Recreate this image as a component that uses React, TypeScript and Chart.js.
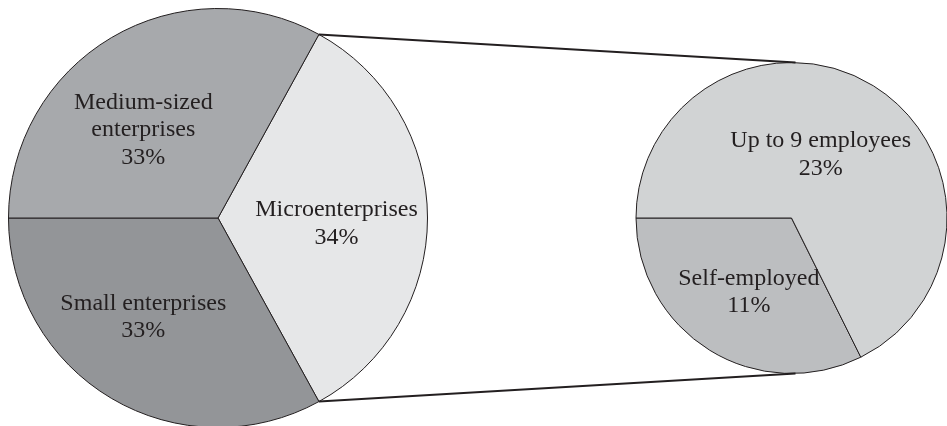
import React, { useEffect, useRef } from "react";
import { Chart, registerables } from "chart.js";

Chart.register(...registerables);

// ---- data ----
const leftCategories: string[][] = [["Microenterprises"], ["Small enterprises"], ["Medium-sized", "enterprises"]];
const leftValues: number[] = [34, 33, 33];
const leftColors: string[] = ["#e6e7e8", "#939598", "#a7a9ac"];

const rightCategories: string[][] = [["Self-employed"], ["Up to 9 employees"]];
const rightValues: number[] = [11, 23];
const rightColors: string[] = ["#bcbec0", "#d1d3d4"];

const INK = "#231f20";
const FONT_SIZE = 24;
const FONT = `${FONT_SIZE}px 'Liberation Serif', 'Times New Roman', serif`;
const LINE_H = 27.6;
const CAP_H = FONT_SIZE * 0.66;

const sum = (a: number[]) => a.reduce((s, v) => s + v, 0);

// label placement: elliptical position inside the slice, then pulled horizontally to fit inside the disc
const FX = 0.7;
const FY = 0.52;
const FIT_MARGIN = 8;
const DROP = 4;

function labelPlugin(lines: string[][]) {
  return {
    id: "sliceLabels",
    afterDatasetsDraw(chart: any) {
      const ctx = chart.ctx;
      const meta = chart.getDatasetMeta(0);
      const values = chart.data.datasets[0].data as number[];
      ctx.save();
      ctx.font = FONT;
      ctx.fillStyle = INK;
      ctx.textAlign = "center";
      ctx.textBaseline = "alphabetic";
      meta.data.forEach((arc: any, i: number) => {
        const p = arc.getProps(["x", "y", "startAngle", "endAngle", "outerRadius"], true);
        const mid = (p.startAngle + p.endAngle) / 2;
        const R = p.outerRadius;
        const all = [...lines[i], values[i] + "%"];
        const halfW = Math.max(...all.map((t) => ctx.measureText(t).width)) / 2;
        const halfH = ((all.length - 1) * LINE_H + CAP_H) / 2;
        let dx = Math.cos(mid) * R * FX;
        const dy = Math.sin(mid) * R * FY + DROP;
        const edgeY = Math.abs(dy) + halfH;
        const lim = R - FIT_MARGIN;
        const maxEdgeX = Math.sqrt(Math.max(lim * lim - edgeY * edgeY, 0));
        if (Math.abs(dx) + halfW > maxEdgeX) {
          dx = Math.sign(dx || 1) * Math.max(maxEdgeX - halfW, 0);
        }
        const cx = p.x + dx;
        const cy = p.y + dy;
        const firstBase = cy - halfH + CAP_H;
        all.forEach((t, j) => ctx.fillText(t, cx, firstBase + j * LINE_H));
      });
      ctx.restore();
    },
  };
}

function baseOptions(rotation: number, padding: any) {
  return {
    responsive: false,
    animation: false as const,
    devicePixelRatio: 1,
    events: [] as any[],
    rotation,
    layout: { padding },
    plugins: { legend: { display: false }, tooltip: { enabled: false } },
  };
}

export default function App() {
  const leftRef = useRef<HTMLCanvasElement>(null);
  const rightRef = useRef<HTMLCanvasElement>(null);

  useEffect(() => {
    const leftTotal = sum(leftValues);
    const leftRotation = 90 - (leftValues[0] / leftTotal) * 180;
    const left = new Chart(leftRef.current!, {
      type: "pie",
      data: {
        labels: leftCategories.map((l) => l.join(" ")),
        datasets: [
          {
            data: leftValues,
            backgroundColor: leftColors,
            borderColor: INK,
            borderWidth: 1,
            hoverOffset: 0,
          },
        ],
      },
      options: baseOptions(leftRotation, { left: 8, top: 8, right: 532, bottom: 12 }) as any,
      plugins: [labelPlugin(leftCategories)],
    });

    const rightTotal = sum(rightValues);
    const rightRotation = 270 - (rightValues[0] / rightTotal) * 360;
    const connectors = {
      id: "connectors",
      afterDatasetsDraw(chart: any) {
        const la = left.getDatasetMeta(0).data[0] as any;
        const lp = la.getProps(["x", "y", "startAngle", "endAngle", "outerRadius"], true);
        const ra = chart.getDatasetMeta(0).data[0] as any;
        const rp = ra.getProps(["x", "y", "outerRadius"], true);
        const ctx = chart.ctx;
        ctx.save();
        ctx.strokeStyle = INK;
        ctx.lineWidth = 2;
        ctx.beginPath();
        ctx.moveTo(lp.x + Math.cos(lp.startAngle) * lp.outerRadius, lp.y + Math.sin(lp.startAngle) * lp.outerRadius);
        ctx.lineTo(rp.x + 4, rp.y - rp.outerRadius);
        ctx.moveTo(lp.x + Math.cos(lp.endAngle) * lp.outerRadius, lp.y + Math.sin(lp.endAngle) * lp.outerRadius);
        ctx.lineTo(rp.x + 4, rp.y + rp.outerRadius);
        ctx.stroke();
        ctx.restore();
      },
    };
    const right = new Chart(rightRef.current!, {
      type: "pie",
      data: {
        labels: rightCategories.map((l) => l.join(" ")),
        datasets: [
          {
            data: rightValues,
            backgroundColor: rightColors,
            borderColor: INK,
            borderWidth: 1,
            hoverOffset: 0,
          },
        ],
      },
      options: baseOptions(rightRotation, { left: 635.5, top: 62, right: 12.5, bottom: 66 }) as any,
      plugins: [labelPlugin(rightCategories), connectors],
    });

    return () => {
      right.destroy();
      left.destroy();
    };
  }, []);

  const canvasStyle: React.CSSProperties = { position: "absolute", left: 0, top: 0, width: 960, height: 440 };
  return (
    <div style={{ position: "fixed", left: 0, top: 0, width: 947, height: 426, overflow: "hidden", background: "#ffffff" }}>
      <canvas ref={leftRef} width={960} height={440} style={canvasStyle} />
      <canvas ref={rightRef} width={960} height={440} style={canvasStyle} />
    </div>
  );
}
